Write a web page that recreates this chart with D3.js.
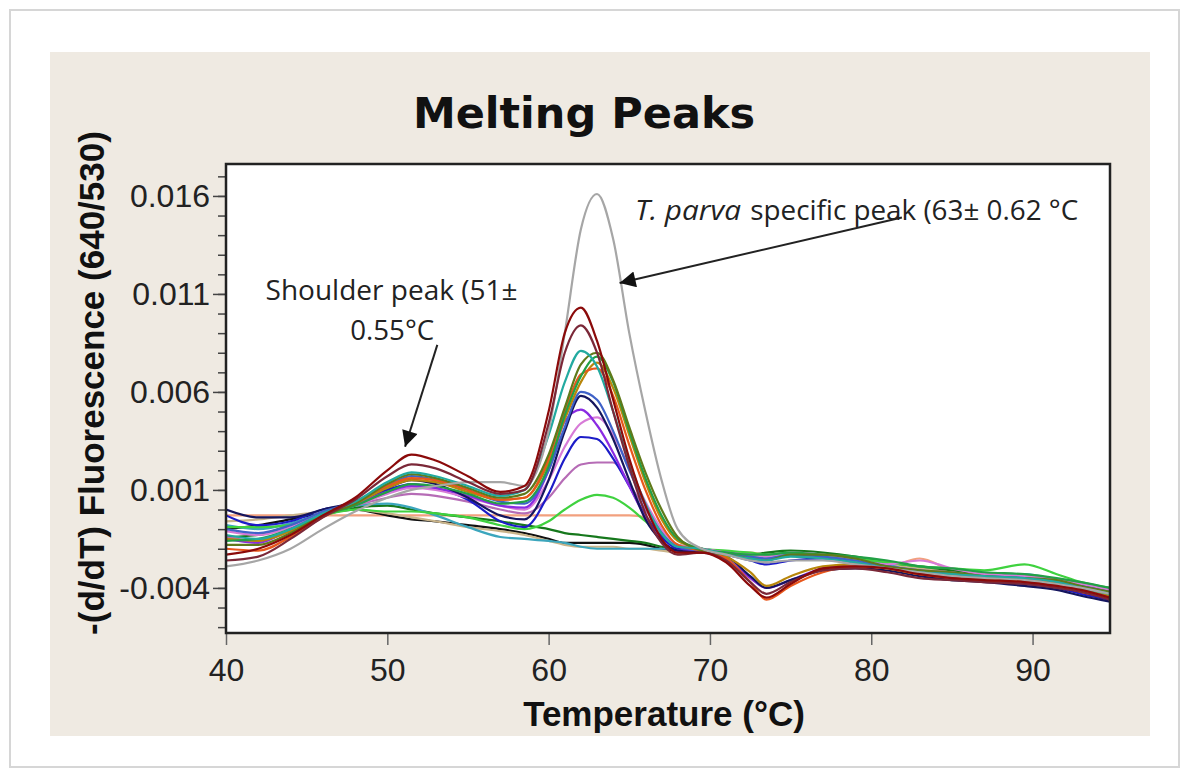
<!DOCTYPE html>
<meta charset="utf-8">
<head>
<title>Melting Peaks</title>
<script src="https://d3js.org/d3.v7.min.js"></script>
<style>
  body { margin: 0; background: #fff; }
</style>
</head>

<div id="chart"></div>

<script>
  // temperatures (°C) at which the curves were read
  var temps = [40, 42, 44, 46, 48, 50, 51.5, 53, 55, 57, 58.5, 60, 61, 62, 63, 64, 65, 66, 67, 68,
               69.5, 71, 72.5, 73.5, 75, 77, 79, 81, 83, 85, 87, 89.5, 91.5, 93, 94.8];

  // -(d/dT) fluorescence, read in units of 0.001
  var peachRun  = [-0.3,-0.3,-0.3,-0.3,-0.3,-0.3,-0.3,-0.3,-0.3,-0.3,-0.3,-0.3,-0.3,-0.3,-0.3,-0.3,-0.3,-0.4,-1.2,-1.9,-2.1,-2.2,-2.2,-2.3,-2.2,-2.4,-2.7,-2.9,-2.5,-3.1,-3.3,-3.4,-3.6,-3.8,-4.0];
  var blackRun  = [-1.0,-0.8,-0.5,-0.2,0.0,-0.3,-0.5,-0.6,-0.8,-1.0,-1.2,-1.5,-1.7,-1.7,-1.7,-1.7,-1.7,-1.8,-2.0,-2.1,-2.1,-2.3,-2.4,-2.5,-2.3,-2.4,-2.6,-2.9,-3.1,-3.3,-3.4,-3.5,-3.7,-3.9,-4.2];
  var tanRun    = [-0.6,-0.5,-0.3,-0.1,0.0,-0.2,-0.4,-0.6,-0.9,-1.1,-1.3,-1.6,-1.8,-1.9,-1.9,-1.9,-2.0,-2.0,-2.1,-2.2,-2.2,-2.3,-2.3,-2.4,-2.3,-2.4,-2.6,-2.8,-3.0,-3.2,-3.3,-3.4,-3.6,-3.8,-4.1];
  var greenRun  = [-1.4,-1.3,-0.8,-0.3,0.1,0.2,0.0,-0.2,-0.4,-0.6,-0.8,-1.0,-1.2,-1.3,-1.4,-1.5,-1.6,-1.7,-1.9,-2.0,-2.1,-2.2,-2.3,-2.2,-2.1,-2.2,-2.4,-2.7,-2.9,-3.1,-3.3,-3.4,-3.6,-3.8,-4.1];
  var cadetRun  = [-0.8,-1.0,-0.7,-0.2,0.2,0.3,0.1,-0.3,-0.9,-1.4,-1.5,-1.6,-1.7,-1.9,-2.0,-2.0,-2.0,-2.0,-2.0,-2.0,-2.0,-2.2,-2.3,-2.4,-2.2,-2.3,-2.5,-2.8,-3.3,-3.6,-3.5,-3.3,-3.6,-3.9,-4.3];
  var limeRun   = [-0.9,-0.9,-0.8,-0.3,0.0,-0.1,-0.1,-0.2,-0.4,-0.8,-1.0,-0.6,0.0,0.5,0.75,0.6,0.1,-0.6,-1.3,-1.8,-2.0,-2.1,-2.2,-2.3,-2.2,-2.3,-2.5,-2.7,-2.9,-3.0,-3.1,-2.8,-3.3,-3.7,-4.0];
  var mauveRun  = [-1.4,-1.6,-1.1,-0.3,0.2,0.6,0.8,0.7,0.4,0.0,-0.2,0.6,1.6,2.3,2.4,2.4,1.3,0.0,-1.1,-1.8,-2.0,-2.2,-2.4,-2.5,-2.3,-2.4,-2.6,-2.9,-3.1,-3.2,-3.4,-3.4,-3.6,-3.8,-4.1];
  var blueRun   = [-0.3,-0.8,-0.6,0.0,0.3,1.0,1.3,1.1,0.5,-0.6,-0.9,0.8,2.6,3.7,3.6,2.6,1.2,-0.3,-1.4,-2.0,-2.1,-2.3,-2.6,-2.8,-2.6,-2.5,-2.7,-3.0,-3.3,-3.5,-3.6,-3.8,-4.0,-4.3,-4.6];
  var orchidRun = [-1.1,-1.3,-0.9,-0.2,0.2,0.8,1.1,1.0,0.6,0.2,0.0,1.5,3.2,4.4,4.7,3.8,2.1,0.4,-1.0,-1.8,-2.0,-2.2,-2.3,-2.4,-2.2,-2.3,-2.6,-2.8,-2.6,-3.0,-3.3,-3.4,-3.6,-3.8,-4.1];
  var purpleRun = [-1.5,-1.7,-1.0,-0.2,0.3,0.9,1.2,1.1,0.7,0.2,0.1,2.0,4.5,5.1,4.3,2.9,1.2,-0.4,-1.6,-2.1,-2.1,-2.5,-3.5,-4.0,-3.6,-3.0,-2.8,-2.9,-3.2,-3.4,-3.6,-3.7,-3.9,-4.1,-4.4];
  var navyRun   = [0.0,-0.4,-0.4,0.0,0.4,1.1,1.5,1.3,0.6,-0.3,-0.5,1.5,4.0,5.8,5.2,3.6,1.5,-0.5,-1.6,-2.1,-2.2,-2.4,-3.4,-4.0,-3.6,-3.1,-3.0,-3.1,-3.4,-3.6,-3.7,-3.9,-4.1,-4.4,-4.7];
  var steelRun  = [-1.0,-1.2,-0.8,-0.1,0.4,1.2,1.7,1.5,1.0,0.4,0.3,2.0,4.2,6.0,5.6,4.0,2.0,0.2,-1.2,-1.9,-2.1,-2.2,-2.4,-2.5,-2.3,-2.4,-2.6,-2.9,-3.1,-3.3,-3.4,-3.5,-3.7,-3.9,-4.2];
  var goldRun   = [-1.5,-1.6,-1.1,-0.3,0.3,1.1,1.5,1.4,0.9,0.5,0.6,2.4,4.6,6.5,7.5,6.2,3.8,1.4,-0.5,-1.6,-2.0,-2.4,-3.2,-3.9,-3.4,-2.9,-2.8,-3.0,-3.3,-3.4,-3.6,-3.6,-3.8,-4.0,-4.4];
  var orangeRun = [-2.0,-2.1,-1.4,-0.4,0.4,1.2,1.6,1.5,1.0,0.5,0.6,2.6,5.0,6.9,7.2,5.8,3.3,1.0,-0.8,-1.8,-2.1,-2.5,-3.7,-4.6,-3.9,-3.2,-2.9,-3.0,-3.3,-3.5,-3.6,-3.7,-3.9,-4.2,-4.5];
  var leafRun   = [-1.6,-1.5,-1.0,-0.3,0.2,0.9,1.3,1.2,0.8,0.3,0.4,2.2,4.8,6.8,7.8,6.5,4.0,1.6,-0.3,-1.5,-2.0,-2.2,-2.3,-2.3,-2.2,-2.3,-2.4,-2.6,-2.9,-3.0,-3.2,-3.3,-3.5,-3.7,-4.0];
  var oliveRun  = [-1.8,-1.8,-1.2,-0.3,0.3,1.3,1.8,1.6,1.1,0.6,0.8,2.8,5.2,7.4,8.0,6.6,4.2,1.9,0.0,-1.4,-2.1,-2.3,-2.5,-2.6,-2.3,-2.3,-2.5,-2.9,-3.1,-3.2,-3.4,-3.5,-3.6,-3.9,-4.2];
  var tealRun   = [-1.3,-1.5,-1.0,-0.2,0.4,1.4,1.9,1.7,1.2,0.7,1.0,3.8,6.5,8.1,7.3,5.0,2.4,0.3,-1.2,-1.9,-2.0,-2.3,-2.5,-2.6,-2.4,-2.5,-2.7,-3.0,-3.2,-3.3,-3.4,-3.5,-3.7,-4.0,-4.3];
  var grayRun   = [-2.9,-2.6,-2.0,-1.0,-0.1,0.6,1.0,1.2,1.4,1.4,1.2,4.0,9.0,14.3,16.1,13.8,9.0,5.0,1.5,-1.0,-2.0,-2.3,-2.6,-2.7,-2.6,-2.6,-2.8,-3.0,-3.2,-3.4,-3.5,-3.6,-3.8,-4.0,-4.3];
  var maroonRun = [-2.6,-2.4,-1.5,-0.4,0.5,1.7,2.3,2.1,1.4,0.8,1.0,4.4,8.0,9.4,8.0,5.0,2.2,-0.2,-1.7,-2.3,-2.2,-2.6,-3.7,-4.3,-3.7,-3.1,-3.0,-3.2,-3.5,-3.6,-3.7,-3.8,-4.0,-4.2,-4.6];
  var redRun    = [-2.3,-2.0,-1.3,-0.3,0.6,2.0,2.8,2.5,1.7,0.9,1.2,5.0,9.0,10.3,8.6,5.6,2.6,0.2,-1.5,-2.2,-2.2,-2.7,-3.9,-4.5,-3.8,-3.0,-2.9,-3.0,-3.3,-3.5,-3.6,-3.7,-3.9,-4.1,-4.5];

  // drawing order: flat runs first, the tallest ones on top
  var runs = [
    {name: "peach", values: peachRun},   {name: "black", values: blackRun},
    {name: "tan", values: tanRun},       {name: "green", values: greenRun},
    {name: "cadet", values: cadetRun},   {name: "lime", values: limeRun},
    {name: "mauve", values: mauveRun},   {name: "blue", values: blueRun},
    {name: "orchid", values: orchidRun}, {name: "purple", values: purpleRun},
    {name: "navy", values: navyRun},     {name: "steel", values: steelRun},
    {name: "gold", values: goldRun},     {name: "orange", values: orangeRun},
    {name: "leaf", values: leafRun},     {name: "olive", values: oliveRun},
    {name: "teal", values: tealRun},     {name: "gray", values: grayRun},
    {name: "maroon", values: maroonRun}, {name: "red", values: redRun}
  ];

  var runColor = {
    peach: "#f2a07e", black: "#111111", tan: "#c9b48a", green: "#16781c", cadet: "#3ba6bd",
    lime: "#3fd23f", mauve: "#b66cb6", blue: "#1c1cc8", orchid: "#d77bd7", purple: "#8a2be2",
    navy: "#15155e", steel: "#3f62c8", gold: "#b8860b", orange: "#e8571c", leaf: "#22a046",
    olive: "#5f7a1a", teal: "#22aaa0", gray: "#a6a6a6", maroon: "#7b2838", red: "#8b0a0a"
  };

  var xTicks = [40, 50, 60, 70, 80, 90];
  var yTicks = [0.016, 0.011, 0.006, 0.001, -0.004];
  var yMinor = d3.range(-6, 18).map(function(d) { return d / 1000; });

  var W = 1189, H = 771;
  var plot = {left: 226, top: 164, right: 1110, bottom: 633};

  var svg = d3.select("#chart")
    .append("svg")
      .attr("width", W)
      .attr("height", H);

  // white card with a thin grey edge
  svg.append("rect")
    .attr("x", 10).attr("y", 10)
    .attr("width", 1169).attr("height", 757)
    .style("fill", "#fff")
    .style("stroke", "#d6d6d6")
    .style("stroke-width", 2);

  // beige panel
  svg.append("rect")
    .attr("x", 50).attr("y", 52)
    .attr("width", 1100).attr("height", 684)
    .style("fill", "#efeae2");

  // plot background
  svg.append("rect")
    .attr("x", plot.left).attr("y", plot.top)
    .attr("width", plot.right - plot.left).attr("height", plot.bottom - plot.top)
    .style("fill", "#fff");

  var x = d3.scaleLinear()
    .domain([40, 94.8])
    .range([plot.left, plot.right]);

  var y = d3.scaleLinear()
    .domain([-0.0063, 0.01763])
    .range([plot.bottom, plot.top]);

  svg.append("clipPath")
      .attr("id", "clip")
    .append("rect")
      .attr("x", plot.left).attr("y", plot.top)
      .attr("width", plot.right - plot.left).attr("height", plot.bottom - plot.top);

  var line = d3.line()
    .x(function(d, i) { return x(temps[i]); })
    .y(function(d) { return y(d / 1000); })
    .curve(d3.curveMonotoneX);

  svg.append("g")
      .attr("clip-path", "url(#clip)")
    .selectAll("path")
    .data(runs)
    .enter()
    .append("path")
      .attr("d", function(d) { return line(d.values); })
      .style("fill", "none")
      .style("stroke", function(d) { return runColor[d.name]; })
      .style("stroke-width", 2.2)
      .style("stroke-linejoin", "round");

  // minor y ticks
  svg.append("g")
    .attr("transform", "translate(" + plot.left + ",0)")
    .call(d3.axisLeft(y).tickValues(yMinor).tickSize(8).tickFormat(""))
    .call(function(g) { g.select(".domain").remove(); })
    .selectAll("line").style("stroke", "#444").style("stroke-width", 1.5);

  // major y ticks
  var yAxis = svg.append("g")
    .attr("transform", "translate(" + plot.left + ",0)")
    .call(d3.axisLeft(y).tickValues(yTicks).tickSize(13).tickPadding(3)
      .tickFormat(function(d) { return d.toFixed(3); }));
  yAxis.select(".domain").remove();
  yAxis.selectAll("line").style("stroke", "#444").style("stroke-width", 1.5);
  yAxis.selectAll("text")
    .style("font-family", "'Liberation Sans', Arial, sans-serif")
    .style("font-size", "32px")
    .style("fill", "#222");

  var xAxis = svg.append("g")
    .attr("transform", "translate(0," + plot.bottom + ")")
    .call(d3.axisBottom(x).tickValues(xTicks).tickSize(12).tickPadding(13));
  xAxis.select(".domain").remove();
  xAxis.selectAll("line").style("stroke", "#666").style("stroke-width", 1.5);
  xAxis.selectAll("text")
    .style("font-family", "'Liberation Sans', Arial, sans-serif")
    .style("font-size", "32px")
    .style("fill", "#222");

  // plot frame
  svg.append("rect")
    .attr("x", plot.left).attr("y", plot.top)
    .attr("width", plot.right - plot.left).attr("height", plot.bottom - plot.top)
    .style("fill", "none")
    .style("stroke", "#222")
    .style("stroke-width", 2.5);

  // title
  svg.append("text")
    .attr("x", 584)
    .attr("y", 128)
    .attr("text-anchor", "middle")
    .style("font-family", "'DejaVu Sans', Verdana, sans-serif")
    .style("font-weight", "bold")
    .style("font-size", "43px")
    .style("fill", "#111")
    .text("Melting Peaks");

  // axis titles
  svg.append("text")
    .attr("x", 664)
    .attr("y", 726)
    .attr("text-anchor", "middle")
    .style("font-family", "'Liberation Sans', Arial, sans-serif")
    .style("font-weight", "bold")
    .style("font-size", "35px")
    .style("fill", "#111")
    .text("Temperature (°C)");

  svg.append("text")
    .attr("transform", "translate(104,383) rotate(-90)")
    .attr("text-anchor", "middle")
    .style("font-family", "'Liberation Sans', Arial, sans-serif")
    .style("font-weight", "bold")
    .style("font-size", "35px")
    .style("fill", "#111")
    .text("-(d/dT) Fluorescence (640/530)");

  // annotations
  svg.append("defs").append("marker")
      .attr("id", "head")
      .attr("viewBox", "0 0 10 10")
      .attr("refX", 10).attr("refY", 5)
      .attr("markerWidth", 20).attr("markerHeight", 16)
      .attr("markerUnits", "userSpaceOnUse")
      .attr("orient", "auto")
    .append("path")
      .attr("d", "M0,0 L10,5 L0,10 z")
      .style("fill", "#111");

  var note = svg.append("g")
    .style("font-family", "'Open Sans', 'Noto Sans', sans-serif")
    .style("font-size", "27px")
    .style("fill", "#222");

  note.append("text")
    .attr("x", x(42.45)).attr("y", y(0.0107))
    .attr("textLength", 252).attr("lengthAdjust", "spacingAndGlyphs")
    .text("Shoulder peak (51±");
  note.append("text")
    .attr("x", x(47.7)).attr("y", y(0.00865))
    .attr("textLength", 84).attr("lengthAdjust", "spacingAndGlyphs")
    .text("0.55°C");
  note.append("text")
    .attr("x", x(65.35)).attr("y", y(0.01478))
    .attr("textLength", 106).attr("lengthAdjust", "spacingAndGlyphs")
    .style("font-style", "italic")
    .text("T. parva");
  note.append("text")
    .attr("x", x(72.5)).attr("y", y(0.01478))
    .attr("textLength", 328).attr("lengthAdjust", "spacingAndGlyphs")
    .text("specific peak (63± 0.62 °C");

  var arrows = [
    {from: [53.1, 0.0084], to: [51.1, 0.0032]},
    {from: [81.9, 0.0149], to: [64.4, 0.01156]}
  ];
  svg.selectAll(".arrow")
    .data(arrows)
    .enter()
    .append("line")
      .attr("class", "arrow")
      .attr("x1", function(d) { return x(d.from[0]); })
      .attr("y1", function(d) { return y(d.from[1]); })
      .attr("x2", function(d) { return x(d.to[0]); })
      .attr("y2", function(d) { return y(d.to[1]); })
      .style("stroke", "#222")
      .style("stroke-width", 2)
      .attr("marker-end", "url(#head)");
</script>
